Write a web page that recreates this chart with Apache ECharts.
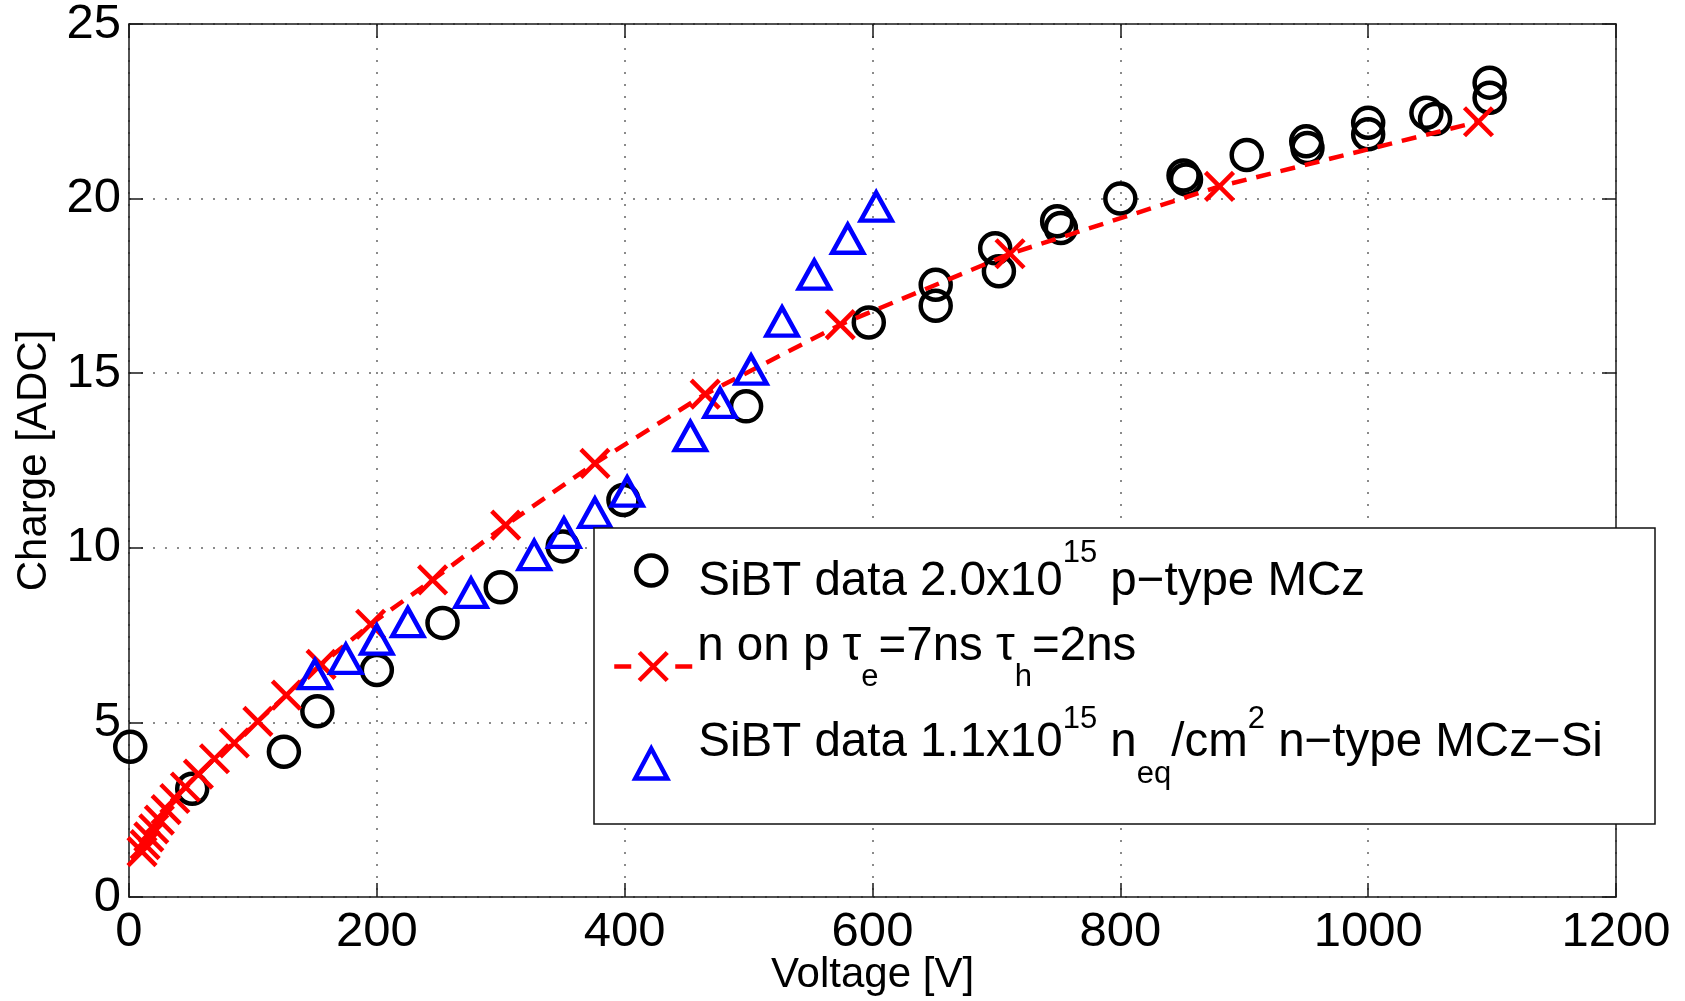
<!DOCTYPE html>
<html>
<head>
<meta charset="utf-8">
<script src="https://cdn.jsdelivr.net/npm/echarts@6/dist/echarts.min.js"></script>
<style>
  html, body { margin: 0; padding: 0; background: #fff; overflow: hidden; }
  #chart { width: 1685px; height: 1001px; }
</style>
</head>
<body>
<div id="chart"></div>
<script>
// ---- Data ----
// SiBT data 2.0x10^15 p-type MCz (black circles)
const pTypeVoltage = [1, 51, 125, 152, 200, 253, 300, 350, 399, 498, 597, 651, 651, 699, 702, 749, 752, 800, 851, 853, 902, 950, 951, 1000, 1000, 1047, 1054, 1098, 1098];
const pTypeCharge  = [4.3, 3.1, 4.16, 5.32, 6.5, 7.85, 8.87, 10.04, 11.37, 14.05, 16.45, 17.53, 16.93, 18.58, 17.92, 19.35, 19.16, 20.0, 20.66, 20.55, 21.25, 21.64, 21.45, 22.17, 21.84, 22.46, 22.28, 23.32, 22.89];

// Simulation n on p, tau_e = 7 ns, tau_h = 2 ns (red dashed line with crosses)
const simVoltage = [10.5, 13, 16, 20, 24.5, 30, 37, 45.5, 56, 69, 85, 104, 127, 155, 195, 245, 304, 376, 465, 574, 711, 880, 1089];
const simCharge  = [1.3, 1.5, 1.72, 1.95, 2.2, 2.5, 2.82, 3.15, 3.52, 3.96, 4.41, 5.03, 5.78, 6.66, 7.81, 9.08, 10.65, 12.42, 14.4, 16.39, 18.42, 20.35, 22.2];

// SiBT data 1.1x10^15 neq/cm^2 n-type MCz-Si (blue triangles)
const nTypeVoltage = [150, 175, 200, 225, 276, 327, 351, 376, 402, 453, 477, 502, 527, 553, 580, 603];
const nTypeCharge  = [6.38, 6.82, 7.37, 7.87, 8.71, 9.79, 10.43, 11.0, 11.61, 13.2, 14.15, 15.1, 16.48, 17.82, 18.85, 19.77];

const seriesNames = [
  'SiBT data 2.0x10^15 p−type MCz',
  'n on p τe=7ns τh=2ns',
  'SiBT data 1.1x10^15 neq/cm^2 n−type MCz−Si'
];
const legendRich = [
  '{f1|SiBT data 2.0x10}{s1|15}{r1| p−type MCz}',
  '{r2|n on p τ}{b2|e}{r2|=7ns τ}{b2|h}{r2|=2ns}',
  '{f3|SiBT data 1.1x10}{s3|15}{r3| n}{b3|eq}{r3|/cm}{s3|2}{r3| n−type MCz−Si}'
];
const axisNames = { x: 'Voltage [V]', y: 'Charge [ADC]' };

// ---- Build ----
const zip = (a, b) => a.map((v, i) => [v, b[i]]);
const FONT = 'Liberation Sans';
const crossPath = 'path://M0,0L20,20M20,0L0,20';
const MAIN = 47.5, SMALL = 31;

const chart = echarts.init(document.getElementById('chart'), null, { renderer: 'canvas' });

const axisLine = { show: true, onZero: false, lineStyle: { color: '#1a1a1a', width: 1.5 } };
const tick = { show: true, inside: true, length: 14, lineStyle: { color: '#1a1a1a', width: 1.5 } };
const gridLine = { show: true, lineStyle: { color: '#666', width: 1.5, type: [2, 10] } };
const plain = v => String(v);

const rich = {
  f1: { fontFamily: FONT, fontSize: MAIN, verticalAlign: 'bottom', padding: [0, 0, 0, 27], color: '#000' },
  r1: { fontFamily: FONT, fontSize: MAIN, verticalAlign: 'bottom', color: '#000' },
  s1: { fontFamily: FONT, fontSize: SMALL, verticalAlign: 'top', padding: [2, 0, 37, 0], color: '#000' },
  r2: { fontFamily: FONT, fontSize: MAIN, verticalAlign: 'top', color: '#000' },
  b2: { fontFamily: FONT, fontSize: SMALL, verticalAlign: 'bottom', padding: [39.5, 0, 17.5, 0], color: '#000' },
  f3: { fontFamily: FONT, fontSize: MAIN, verticalAlign: 'top', padding: [15, 0, 0, 26], color: '#000' },
  r3: { fontFamily: FONT, fontSize: MAIN, verticalAlign: 'top', padding: [15, 0, 0, 0], color: '#000' },
  s3: { fontFamily: FONT, fontSize: SMALL, verticalAlign: 'top', color: '#000' },
  b3: { fontFamily: FONT, fontSize: SMALL, verticalAlign: 'bottom', padding: [54.5, 0, 33.5, 0], color: '#000' }
};
const legendBase = {
  orient: 'vertical', padding: 0, selectedMode: false, z: 10,
  formatter: function (name) { return legendRich[seriesNames.indexOf(name)]; },
  textStyle: { fontFamily: FONT, color: '#000', rich: rich }
};

const option = {
  backgroundColor: '#ffffff',
  animation: false,
  grid: { left: 129, top: 24, right: 69, bottom: 104, containLabel: false, outerBoundsMode: 'none' },
  xAxis: [
    {
      type: 'value', min: 0, max: 1200, interval: 200, position: 'bottom',
      name: axisNames.x, nameLocation: 'middle', nameGap: 57, nameMoveOverlap: false,
      nameTextStyle: { fontFamily: FONT, fontSize: 42, color: '#000' },
      axisLine: axisLine, axisTick: tick,
      axisLabel: { fontFamily: FONT, fontSize: 49, color: '#000', margin: 11, formatter: plain },
      splitLine: gridLine
    },
    {
      type: 'value', min: 0, max: 1200, interval: 200, position: 'top',
      axisLine: axisLine, axisTick: tick,
      axisLabel: { show: false }, splitLine: { show: false }
    }
  ],
  yAxis: [
    {
      type: 'value', min: 0, max: 25, interval: 5, position: 'left',
      name: axisNames.y, nameLocation: 'middle', nameGap: 74, nameMoveOverlap: false,
      nameTextStyle: { fontFamily: FONT, fontSize: 42, color: '#000' },
      axisLine: axisLine, axisTick: tick,
      axisLabel: { fontFamily: FONT, fontSize: 49, color: '#000', margin: 8, formatter: plain },
      splitLine: gridLine
    },
    {
      type: 'value', min: 0, max: 25, interval: 5, position: 'right',
      axisLine: axisLine, axisTick: tick,
      axisLabel: { show: false }, splitLine: { show: false }
    }
  ],
  legend: [
    Object.assign({}, legendBase, {
      left: 634, top: 537.5, itemWidth: 30, itemHeight: 30,
      data: [{ name: seriesNames[0], icon: 'circle',
               itemStyle: { color: 'rgba(0,0,0,0)', borderColor: '#000', borderWidth: 4.5 } }]
    }),
    Object.assign({}, legendBase, {
      left: 612, top: 622.5, itemWidth: 78, itemHeight: 35,
      data: [{ name: seriesNames[1],
               itemStyle: { color: '#ff0000', borderColor: '#ff0000', borderWidth: 4.5 },
               lineStyle: { color: '#ff0000', width: 4.5, type: [17, 44] } }]
    }),
    Object.assign({}, legendBase, {
      left: 633, top: 704, itemWidth: 32, itemHeight: 30,
      data: [{ name: seriesNames[2], icon: 'triangle',
               itemStyle: { color: 'rgba(0,0,0,0)', borderColor: '#0000ff', borderWidth: 4.5 } }]
    })
  ],
  graphic: {
    elements: [
      { type: 'rect', z: 5, silent: true,
        shape: { x: 594, y: 528, width: 1061, height: 296 },
        style: { fill: '#ffffff', stroke: '#111', lineWidth: 1.5 } }
    ]
  },
  series: [
    {
      name: seriesNames[0], type: 'scatter', z: 2,
      data: zip(pTypeVoltage, pTypeCharge),
      symbol: 'circle', symbolSize: 30,
      itemStyle: { color: 'rgba(0,0,0,0)', borderColor: '#000', borderWidth: 4.5, opacity: 1 }
    },
    {
      name: seriesNames[1], type: 'line', z: 3,
      data: zip(simVoltage, simCharge),
      symbol: crossPath, symbolSize: 28, showSymbol: true, showAllSymbol: true,
      lineStyle: { color: '#ff0000', width: 4.5, type: [15, 10] },
      itemStyle: { color: '#ff0000', borderColor: '#ff0000', borderWidth: 4.5 }
    },
    {
      name: seriesNames[2], type: 'scatter', z: 4,
      data: zip(nTypeVoltage, nTypeCharge),
      symbol: 'triangle', symbolSize: [31, 28],
      itemStyle: { color: 'rgba(0,0,0,0)', borderColor: '#0000ff', borderWidth: 4.5, opacity: 1 }
    }
  ]
};
chart.setOption(option);
</script>
</body>
</html>
